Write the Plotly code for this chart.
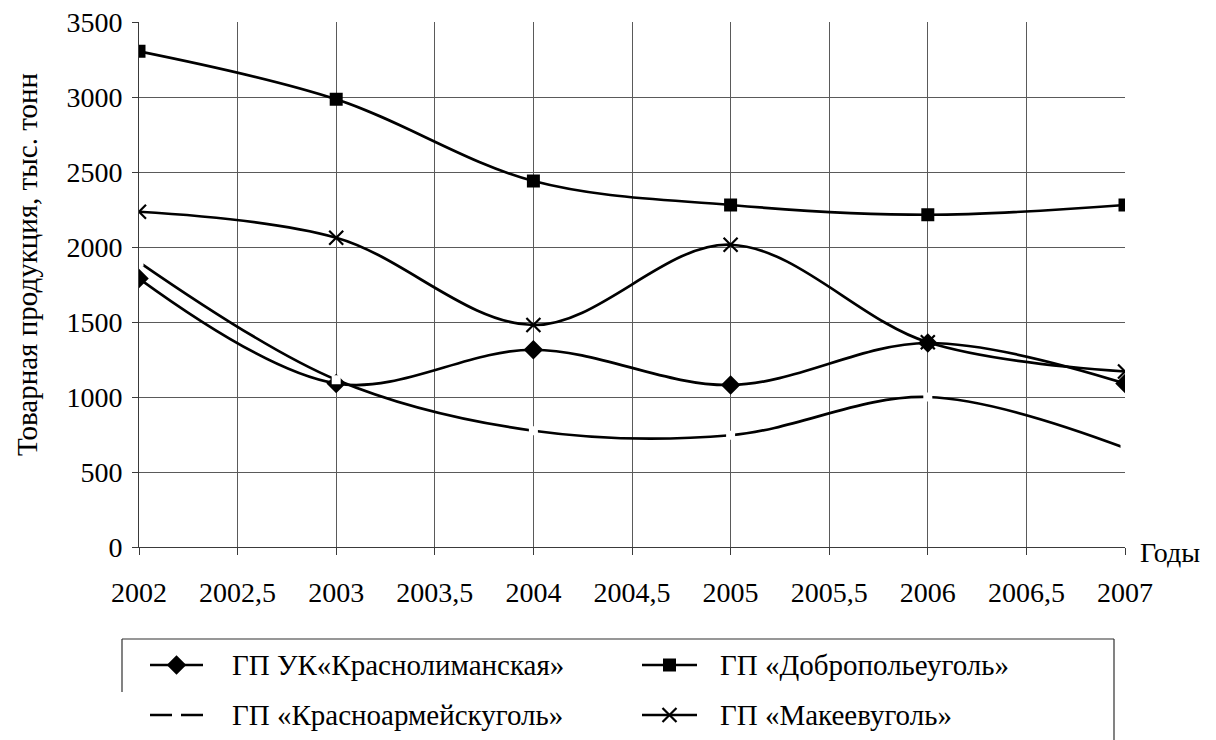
import plotly.graph_objects as go

years = [2002, 2003, 2004, 2005, 2006, 2007]
krasnolim = [1790, 1090, 1315, 1080, 1360, 1090]
dobropol = [3305, 2985, 2440, 2280, 2215, 2280]
krasnoarm = [1900, 1115, 775, 745, 1000, 660]
makeev = [2235, 2062, 1480, 2015, 1365, 1170]

names = ["ГП УК«Краснолиманская»", "ГП «Добропольеуголь»",
         "ГП «Красноармейскуголь»", "ГП «Макеевуголь»"]

x_tickvals = [2002, 2002.5, 2003, 2003.5, 2004, 2004.5, 2005, 2005.5, 2006, 2006.5, 2007]
x_ticktext = ["2002", "2002,5", "2003", "2003,5", "2004", "2004,5", "2005", "2005,5", "2006", "2006,5", "2007"]
y_tickvals = [0, 500, 1000, 1500, 2000, 2500, 3000, 3500]

FONT = "Liberation Serif"
BASE_FONT = "serif"  # different from FONT so that per-element font styles are kept
OFF = 8  # page body margin
W, H = 1216 - OFF, 740 - OFF
PL, PR, PT, PB = 139, 1125, 22, 547

def fx(px):
    return (px - OFF) / W

def fy(py):
    return (H - (py - OFF)) / H

LINE_W = 2.7
line = dict(color="black", width=LINE_W, shape="spline", smoothing=1)
styles = [
    dict(symbol="diamond", size=15, color="black"),
    dict(symbol="square", size=13, color="black"),
    dict(symbol="square", size=9, color="white", line=dict(width=0)),
    dict(symbol="x-thin", size=14, color="black", line=dict(width=2.2, color="black")),
]
series = [krasnolim, dobropol, krasnoarm, makeev]

fig = go.Figure()
for nm, vals, mk in zip(names, series, styles):
    fig.add_trace(go.Scatter(x=years, y=vals, name=nm, mode="lines+markers",
                             line=line, marker=mk, showlegend=False,
                             xaxis="x", yaxis="y"))

key_pos = [(150, 203, 665), (642, 697, 665), (150, 203, 715), (642, 697, 715)]
text_x = [230, 718, 230, 718]
annotations = []
for (x0, x1, yk), mk, nm, tx in zip(key_pos, styles, names, text_x):
    fig.add_trace(go.Scatter(x=[x0, x1], y=[yk, yk], mode="lines",
                             line=dict(color="black", width=LINE_W),
                             showlegend=False, hoverinfo="skip",
                             xaxis="x2", yaxis="y2"))
    fig.add_trace(go.Scatter(x=[(x0 + x1) / 2], y=[yk], mode="markers", marker=mk,
                             showlegend=False, hoverinfo="skip",
                             xaxis="x2", yaxis="y2"))
    annotations.append(dict(text=nm, xref="paper", yref="paper", x=fx(tx), y=fy(yk),
                            xanchor="left", yanchor="middle", showarrow=False,
                            font=dict(family=FONT, size=29, color="black")))

annotations += [
    dict(text="Товарная продукция, тыс. тонн", textangle=-90,
         xref="paper", yref="paper", x=fx(27), y=fy(265),
         xanchor="center", yanchor="middle", showarrow=False,
         font=dict(family=FONT, size=29, color="black")),
    dict(text="Годы", xref="paper", yref="paper", x=fx(1138), y=fy(552),
         xanchor="left", yanchor="middle", showarrow=False,
         font=dict(family=FONT, size=28, color="black")),
]

BORDER = dict(color="#303030", width=1.2)
shapes = [
    dict(type="line", xref="paper", yref="paper", x0=fx(122), x1=fx(1114),
         y0=fy(639), y1=fy(639), line=BORDER),
    dict(type="line", xref="paper", yref="paper", x0=fx(122), x1=fx(122),
         y0=fy(639), y1=fy(692), line=BORDER),
    dict(type="line", xref="paper", yref="paper", x0=fx(1114), x1=fx(1114),
         y0=fy(639), y1=fy(740), line=BORDER),
]

GRID = "#5a5a5a"
TICKFONT = dict(family=FONT, size=28, color="black")
fig.update_layout(
    width=W, height=H,
    margin=dict(l=0, r=0, t=0, b=0, autoexpand=False),
    paper_bgcolor="white", plot_bgcolor="rgba(0,0,0,0)",
    font=dict(family=BASE_FONT, size=28, color="black"),
    showlegend=False,
    xaxis=dict(domain=[fx(PL), fx(PR)], range=[2002, 2007],
               tickvals=x_tickvals, ticktext=x_ticktext,
               showgrid=True, gridcolor=GRID, gridwidth=1,
               showline=True, linecolor="#3a3a3a", linewidth=1,
               ticks="outside", ticklen=7, tickcolor="#3a3a3a",
               ticklabelstandoff=13, ticklabeloverflow="allow",
               zeroline=False, automargin=False,
               tickfont=TICKFONT, anchor="y"),
    yaxis=dict(domain=[fy(PB), fy(PT)], range=[0, 3500], tickvals=y_tickvals,
               showgrid=True, gridcolor=GRID, gridwidth=1,
               showline=True, linecolor="#3a3a3a", linewidth=1,
               ticks="outside", ticklen=6, tickcolor="#3a3a3a",
               ticklabelstandoff=4, ticklabeloverflow="allow",
               zeroline=False, automargin=False,
               tickfont=TICKFONT, anchor="x"),
    xaxis2=dict(domain=[0, 1], range=[OFF, OFF + W], visible=False, anchor="y2",
                fixedrange=True),
    yaxis2=dict(domain=[0, 1], range=[OFF + H, OFF], visible=False, anchor="x2",
                fixedrange=True),
    annotations=annotations,
    shapes=shapes,
)

fig.write_html("out.html")
